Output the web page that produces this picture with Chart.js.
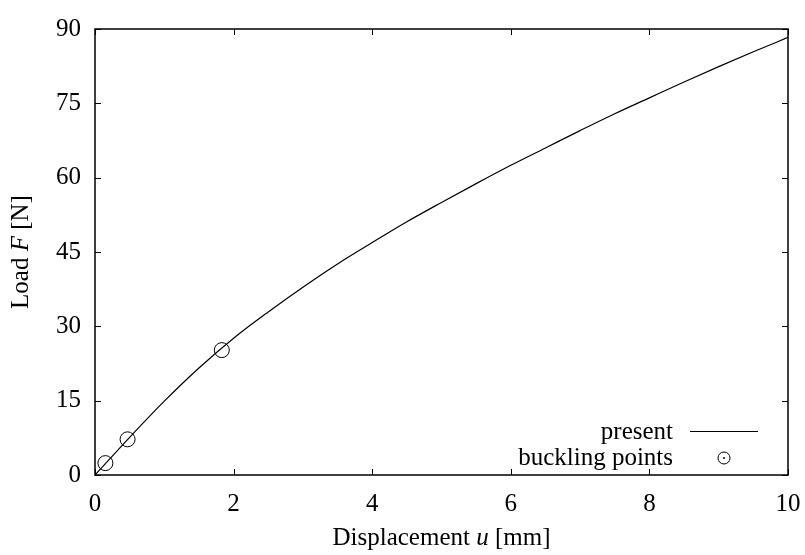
<!DOCTYPE html>
<html>
<head>
<meta charset="utf-8">
<script src="https://cdn.jsdelivr.net/npm/chart.js@4"></script>
<style>
  body { margin: 0; background: #fff; }
</style>
</head>
<body>
<canvas id="myChart" width="805" height="555"></canvas>
<script>
// curve "present"
const displacement = [0, 0.5, 1, 1.5, 2, 2.5, 3, 3.5, 4, 4.5, 5, 5.5, 6, 6.5, 7, 7.5, 8, 8.5, 9, 9.5, 10];
const load = [0, 7.6, 14.9, 21.6, 27.6, 32.9, 37.9, 42.6, 46.9, 51.1, 55.0, 58.8, 62.5, 66.0, 69.5, 72.9, 76.1, 79.3, 82.4, 85.4, 88.3];

// buckling points
const bucklingU = [0.15, 0.47, 1.83];
const bucklingF = [2.4, 7.2, 25.2];

// tick labels
const xTicks = [0, 2, 4, 6, 8, 10];
const yTicks = [0, 15, 30, 45, 60, 75, 90];

const FONT = '"Liberation Serif", "DejaVu Serif", serif';
const SIZE = 25;

// frame, inward ticks, axis titles and legend
const framePlugin = {
    id: 'frame',
    afterDraw(chart) {
        const ctx = chart.ctx;
        const a = chart.chartArea;
        const xs = chart.scales.x, ys = chart.scales.y;
        ctx.save();
        ctx.strokeStyle = '#000';
        ctx.lineWidth = 1.5;
        ctx.strokeRect(a.left, a.top, a.right - a.left, a.bottom - a.top);

        ctx.lineWidth = 1;
        ctx.beginPath();
        xTicks.forEach(v => {
            const px = Math.round(xs.getPixelForValue(v)) + 0.5;
            ctx.moveTo(px, a.bottom); ctx.lineTo(px, a.bottom - 6);
            ctx.moveTo(px, a.top); ctx.lineTo(px, a.top + 6);
        });
        yTicks.forEach(v => {
            const py = Math.round(ys.getPixelForValue(v)) + 0.5;
            ctx.moveTo(a.left, py); ctx.lineTo(a.left + 6, py);
            ctx.moveTo(a.right, py); ctx.lineTo(a.right - 6, py);
        });
        ctx.stroke();

        // x title: Displacement u [mm]
        ctx.fillStyle = '#000';
        ctx.textBaseline = 'alphabetic';
        drawMixed(ctx, [['Displacement ', ''], ['u', 'italic '], [' [mm]', '']], (a.left + a.right) / 2, 545);

        // y title: Load F [N]
        ctx.save();
        ctx.translate(28, (a.top + a.bottom) / 2);
        ctx.rotate(-Math.PI / 2);
        drawMixed(ctx, [['Load ', ''], ['F', 'italic '], [' [N]', '']], 0, 0);
        ctx.restore();

        // legend
        ctx.font = SIZE + 'px ' + FONT;
        ctx.textAlign = 'right';
        ctx.textBaseline = 'middle';
        ctx.fillText('present', 673, 432);
        ctx.fillText('buckling points', 673, 458);
        ctx.lineWidth = 1.2;
        ctx.beginPath();
        ctx.moveTo(690, 431.5); ctx.lineTo(758, 431.5);
        ctx.stroke();
        ctx.lineWidth = 1;
        ctx.beginPath();
        ctx.arc(724, 458, 6, 0, Math.PI * 2);
        ctx.stroke();
        ctx.beginPath();
        ctx.arc(724, 458, 1, 0, Math.PI * 2);
        ctx.fill();
        ctx.restore();
    }
};

function drawMixed(ctx, parts, cx, y) {
    let total = 0;
    parts.forEach(p => {
        ctx.font = p[1] + SIZE + 'px ' + FONT;
        total += ctx.measureText(p[0]).width;
    });
    let x = cx - total / 2;
    ctx.textAlign = 'left';
    parts.forEach(p => {
        ctx.font = p[1] + SIZE + 'px ' + FONT;
        ctx.fillText(p[0], x, y);
        x += ctx.measureText(p[0]).width;
    });
}

const ctx = document.getElementById('myChart').getContext('2d');
let chart = new Chart(ctx, {
    type: 'scatter',
    data: {
        datasets: [{
            label: 'present',
            data: displacement.map((u, i) => ({ x: u, y: load[i] })),
            showLine: true,
            borderColor: '#000',
            borderWidth: 1.2,
            pointRadius: 0,
            cubicInterpolationMode: 'monotone',
            fill: false
        }, {
            label: 'buckling points',
            data: bucklingU.map((u, i) => ({ x: u, y: bucklingF[i] })),
            showLine: false,
            pointStyle: 'circle',
            pointRadius: 7.5,
            pointBorderWidth: 1,
            pointBorderColor: '#000',
            pointBackgroundColor: 'rgba(0,0,0,0)'
        }]
    },
    options: {
        responsive: false,
        devicePixelRatio: 1,
        animation: false,
        layout: { padding: { top: 20, right: 17, left: 0, bottom: 0 } },
        plugins: {
            legend: { display: false },
            tooltip: { enabled: false }
        },
        scales: {
            x: {
                type: 'linear',
                min: 0, max: 10,
                afterBuildTicks: s => { s.ticks = xTicks.map(v => ({ value: v })); },
                afterFit: s => { s.height = 80; s.paddingLeft = 0; s.paddingRight = 0; },
                grid: { drawOnChartArea: false, drawTicks: false },
                border: { display: false },
                ticks: { color: '#000', padding: 14, maxRotation: 0, font: { family: FONT, size: SIZE } }
            },
            y: {
                type: 'linear',
                min: 0, max: 90,
                afterBuildTicks: s => { s.ticks = yTicks.map(v => ({ value: v })); },
                afterFit: s => { s.width = 95; },
                grid: { drawOnChartArea: false, drawTicks: false },
                border: { display: false },
                ticks: { color: '#000', padding: 14, font: { family: FONT, size: SIZE } }
            }
        }
    },
    plugins: [framePlugin]
});
</script>
</body>
</html>
